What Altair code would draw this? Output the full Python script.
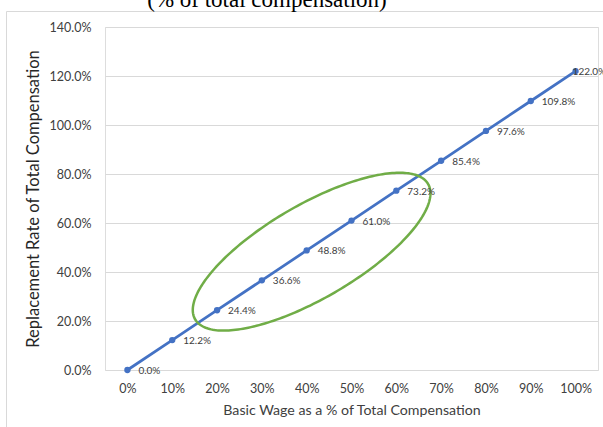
import altair as alt
import numpy as np
import pandas as pd

# Series: replacement rate (% of total compensation) by basic-wage share
basic_wage = [0, 10, 20, 30, 40, 50, 60, 70, 80, 90, 100]
replacement = [0.0, 12.2, 24.4, 36.6, 48.8, 61.0, 73.2, 85.4, 97.6, 109.8, 122.0]

title_text = "(% of total compensation)"
x_title = "Basic Wage as a % of Total Compensation"
y_title = "Replacement Rate of Total Compensation"

# Highlight ellipse around the 20%-60% band, in data units:
# centre plus two conjugate semi-diameters
ell_center = (41.1, 48.3)
ell_u = (26.0, 27.6)
ell_v = (5.2, -16.6)

BLUE = "#4472C4"
GREEN = "#70AD47"
GRID = "#D9D9D9"
FONT = "Lato"

W, H = 493, 343

df = pd.DataFrame({"x": basic_wage, "y": replacement})
df["lbl"] = [f"{v:.1f}%" for v in replacement]
df["last"] = df["x"] == max(basic_wage)

t = np.linspace(0, 2 * np.pi, 241)
ell = pd.DataFrame({
    "x": ell_center[0] + ell_u[0] * np.cos(t) + ell_v[0] * np.sin(t),
    "y": ell_center[1] + ell_u[1] * np.cos(t) + ell_v[1] * np.sin(t),
    "i": np.arange(len(t)),
})

xs = alt.Scale(domain=[-5, 105], nice=False, zero=False)
ys = alt.Scale(domain=[0, 140], nice=False)

x_axis = alt.Axis(
    values=basic_wage, grid=False, ticks=False, tickSize=0, domain=False,
    labelExpr="datum.value + '%'", labelFont=FONT, labelFontSize=12.5,
    labelColor="#404040", labelBaseline="middle", labelPadding=18,
    title=x_title, titleFont=FONT, titleFontSize=14.2, titleFontWeight="normal",
    titleColor="#404040", titleX=W / 2, titleY=40, titleBaseline="middle",
    titleAlign="center",
)
y_axis = alt.Axis(
    values=[0, 20, 40, 60, 80, 100, 120, 140], grid=True, gridColor=GRID,
    gridWidth=1, ticks=False, tickSize=0, domain=False,
    labelExpr="format(datum.value, '.1f') + '%'", labelFont=FONT,
    labelFontSize=12.5, labelColor="#404040", labelPadding=14,
    title=y_title, titleFont=FONT, titleFontSize=16.5,
    titleFontWeight="normal", titleColor="#262626", titleAngle=-90,
    titleX=-72, titleY=H / 2, titleBaseline="middle", titleAlign="center",
)

base = alt.Chart(df)

line = base.mark_line(color=BLUE, strokeWidth=2.75).encode(
    x=alt.X("x:Q", scale=xs, axis=x_axis),
    y=alt.Y("y:Q", scale=ys, axis=y_axis),
)
points = base.mark_circle(color=BLUE, size=40, opacity=1).encode(
    x=alt.X("x:Q", scale=xs), y=alt.Y("y:Q", scale=ys)
)
label_style = dict(align="left", baseline="middle", dy=1, font=FONT,
                   fontSize=10, color="#404040")
labels = base.transform_filter("!datum.last").mark_text(
    dx=11, **label_style
).encode(x=alt.X("x:Q", scale=xs), y=alt.Y("y:Q", scale=ys), text="lbl:N")
# the end label sits over its point, running off the right edge
end_label = base.transform_filter("datum.last").mark_text(
    dx=-3, **label_style
).encode(x=alt.X("x:Q", scale=xs), y=alt.Y("y:Q", scale=ys), text="lbl:N")

ellipse = alt.Chart(ell).mark_line(color=GREEN, strokeWidth=2.5).encode(
    x=alt.X("x:Q", scale=xs), y=alt.Y("y:Q", scale=ys), order="i:Q"
)

# Chart frame (top and left edges) and the partly visible heading
frame_top = alt.Chart(pd.DataFrame({"a": [0]})).mark_rule(
    color=GRID, strokeWidth=1
).encode(x=alt.value(-98.5), x2=alt.value(W + 10), y=alt.value(-15.5))
frame_left = alt.Chart(pd.DataFrame({"a": [0]})).mark_rule(
    color=GRID, strokeWidth=1
).encode(x=alt.value(-98.5), y=alt.value(-15.5), y2=alt.value(H + 60))
heading = alt.Chart(pd.DataFrame({"t": [title_text]})).mark_text(
    font="Liberation Serif", fontSize=23, color="#000000",
    align="center", baseline="alphabetic",
).encode(x=alt.value(162), y=alt.value(-20), text="t:N")

chart = alt.layer(
    frame_top, frame_left, heading, line, ellipse, points, labels, end_label
).properties(
    width=W, height=H,
    autosize=alt.AutoSizeParams(type="none"),
    padding={"left": 105, "top": 27, "right": 5, "bottom": 57},
).configure_view(stroke=None).configure(background="white")

chart.save("out.html", embed_options={"renderer": "svg", "actions": False})
